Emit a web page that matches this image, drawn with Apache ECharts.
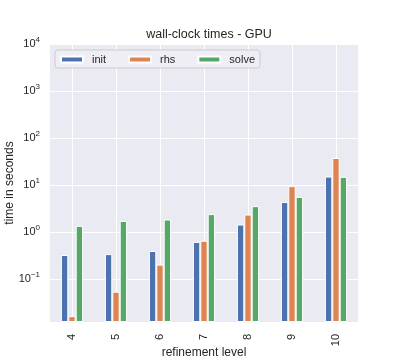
<!DOCTYPE html>
<html>
<head>
<meta charset="utf-8">
<script src="https://cdn.jsdelivr.net/npm/echarts@6/dist/echarts.min.js"></script>
<style>
  html, body { margin: 0; padding: 0; background: #fff; }
  #chart { width: 399px; height: 363px; }
</style>
</head>
<body>
<div id="chart"></div>
<script>
// refinement levels and wall-clock times (seconds)
var levels = ['4', '5', '6', '7', '8', '9', '10'];
var initTimes = [0.32, 0.335, 0.39, 0.61, 1.43, 4.3, 15.0];
var rhsTimes = [0.016, 0.053, 0.20, 0.645, 2.33, 9.4, 37.5];
var solveTimes = [1.34, 1.71, 1.83, 2.38, 3.52, 5.55, 14.8];

var font = 'Liberation Sans, Arial, sans-serif';
var yMin = 0.012;

// helper axis: 2 slots per level, grid lines drawn on the odd ones (= level centres)
var halfSlots = [];
for (var k = 0; k <= levels.length * 2; k++) halfSlots.push('');

function powLabel(v) {
    var l = Math.log10(v);
    var e = Math.round(l);
    if (Math.abs(l - e) > 1e-6) return '';
    return '{b|10}{s|' + (e < 0 ? '\u2212' + (-e) : e) + '}';
}

var myChart = echarts.init(document.getElementById('chart'));

function barSeries(name, data, color) {
    return {
        name: name,
        type: 'bar',
        data: data,
        barWidth: 7.4,
        barGap: '0%',
        itemStyle: { color: color, borderColor: '#ffffff', borderWidth: 1 }
    };
}

var option = {
    animation: false,
    textStyle: { fontFamily: font },
    title: {
        text: 'wall-clock times - GPU',
        left: 204,
        textAlign: 'center',
        top: 23,
        textStyle: { fontFamily: font, fontSize: 12.5, fontWeight: 'normal', color: '#262626' }
    },
    legend: {
        left: 55,
        top: 50,
        padding: [4, 5, 3, 5],
        itemWidth: 22,
        itemHeight: 6,
        itemGap: 22,
        backgroundColor: '#EEEEF4',
        borderColor: '#cccccc',
        borderWidth: 1,
        borderRadius: 3,
        icon: 'rect',
        textStyle: { fontFamily: font, fontSize: 11, color: '#262626', padding: [0, 0, 0, 4] },
        data: ['init', 'rhs', 'solve']
    },
    grid: {
        left: 50, right: 41, top: 44, bottom: 41,
        containLabel: false,
        outerBoundsMode: 'none',
        show: true, backgroundColor: '#EAEAF2', borderWidth: 0
    },
    xAxis: [{
        type: 'category',
        data: levels,
        name: 'refinement level',
        nameLocation: 'middle',
        nameGap: 25,
        nameMoveOverlap: false,
        nameTextStyle: { fontFamily: font, fontSize: 12, color: '#262626' },
        axisLine: { show: false },
        axisTick: { show: false },
        axisLabel: { rotate: 90, margin: 12, fontSize: 11, color: '#262626', fontFamily: font },
        splitLine: { show: false }
    }, {
        type: 'category',
        data: halfSlots,
        boundaryGap: false,
        position: 'bottom',
        axisLine: { show: false },
        axisTick: { show: false },
        axisLabel: { show: false },
        splitLine: {
            show: true,
            interval: function (index) { return index % 2 === 1; },
            lineStyle: { color: '#ffffff', width: 1 }
        }
    }],
    yAxis: {
        type: 'log',
        logBase: 10,
        min: yMin,
        max: 10000,
        startValue: yMin,
        name: 'time in seconds',
        nameLocation: 'middle',
        nameGap: 34,
        nameMoveOverlap: false,
        nameTextStyle: { fontFamily: font, fontSize: 12, color: '#262626' },
        axisLine: { show: false },
        axisTick: { show: false },
        minorTick: { show: false },
        axisLabel: {
            margin: 10,
            formatter: powLabel,
            rich: {
                b: { fontSize: 11, color: '#262626', fontFamily: font },
                s: { fontSize: 8, color: '#262626', fontFamily: font, verticalAlign: 'bottom', padding: [0, 0, 8, 0] }
            }
        },
        splitLine: { show: true, lineStyle: { color: '#ffffff', width: 1 } }
    },
    series: [
        barSeries('init', initTimes, '#4C72B0'),
        barSeries('rhs', rhsTimes, '#DD8452'),
        barSeries('solve', solveTimes, '#55A868')
    ]
};

myChart.setOption(option);
</script>
</body>
</html>
